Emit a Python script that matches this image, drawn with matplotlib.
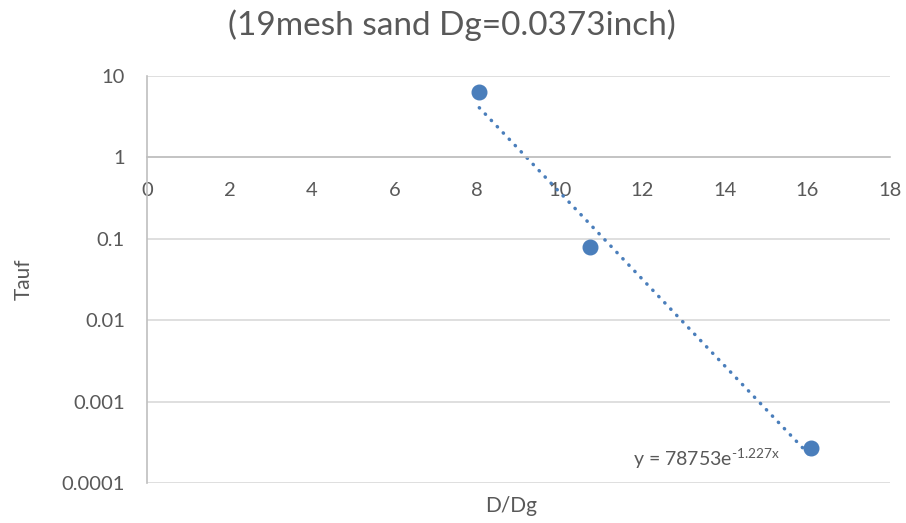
import numpy as np
import matplotlib
matplotlib.use("Agg")
import matplotlib.pyplot as plt
from matplotlib.ticker import FixedLocator, FixedFormatter, NullLocator

# data
d_ratio = [8.05, 10.73, 16.08]
tauf = [6.27, 0.079, 0.000267]

# Excel exponential trendline y = a * exp(b x)
fit_a = 78753
fit_b = -1.227

y_ticks = [0.0001, 0.001, 0.01, 0.1, 1, 10]
y_labels = ["0.0001", "0.001", "0.01", "0.1", "1", "10"]
x_ticks = [0, 2, 4, 6, 8, 10, 12, 14, 16, 18]

plt.rcParams['font.family'] = ['Lato', 'DejaVu Sans']
plt.rcParams['mathtext.fontset'] = 'custom'
plt.rcParams['mathtext.rm'] = 'Lato'
plt.rcParams['mathtext.it'] = 'Lato'
plt.rcParams['mathtext.default'] = 'regular'

txt = '#595959'
blue = '#4a7ebb'

fig = plt.figure(figsize=(9.06, 5.23), dpi=100)
ax = fig.add_axes([0.1623, 0.0765, 0.82, 0.7788])

xs = np.array([min(d_ratio), max(d_ratio)])
ax.plot(xs, fit_a * np.exp(fit_b * xs), color=blue, linewidth=2.5,
        linestyle=(0, (0.1, 2.4)), dash_capstyle='round', zorder=2)
ax.plot(d_ratio, tauf, 'o', color=blue, markersize=10.5, zorder=3)

ax.set_yscale('log')
ax.set_ylim(0.0001, 10)
ax.set_xlim(0, 18)
ax.yaxis.set_major_locator(FixedLocator(y_ticks))
ax.yaxis.set_major_formatter(FixedFormatter(y_labels))
ax.yaxis.set_minor_locator(NullLocator())
ax.set_xticks(x_ticks)
ax.set_xticklabels([str(v) for v in x_ticks])

ax.grid(axis='y', color='#d9d9d9', linewidth=1.2, zorder=0)
ax.set_axisbelow(True)

for s in ['top', 'right']:
    ax.spines[s].set_visible(False)
ax.spines['bottom'].set_position(('data', 1))
ax.spines['bottom'].set_color('#bfbfbf')
ax.spines['bottom'].set_linewidth(1.2)
ax.spines['left'].set_color('#bfbfbf')
ax.spines['left'].set_linewidth(1.2)

ax.tick_params(axis='both', length=0, labelsize=14.5, colors=txt)
ax.tick_params(axis='x', pad=18)
ax.tick_params(axis='y', pad=16)

ax.set_ylabel('Tauf', fontsize=15, color=txt, labelpad=20)
fig.text(0.564, 0.033, 'D/Dg', fontsize=15, color=txt, ha='center', va='center')
fig.text(0.499, 0.952, '(19mesh sand Dg=0.0373inch)', fontsize=24, color=txt,
         ha='center', va='center')

ax.text(11.77, 0.0002, r'y = 78753e$^{\text{-1.227x}}$', fontsize=14, color=txt,
        ha='left', va='center')

fig.savefig('out.png', dpi=100)
